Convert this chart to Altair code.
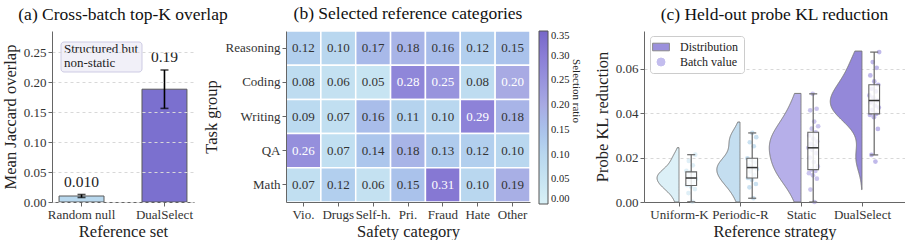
import json

import altair as alt
import pandas as pd

FONT = "Liberation Serif"

# ---------------- (a) cross-batch top-K overlap ----------------
ref_sets = ["Random null", "DualSelect"]
overlap_mean = [0.010, 0.188]
overlap_err = [0.0025, 0.032]
overlap_text = ["0.010", "0.19"]
bar_colors = ["#b8d8ee", "#7b70cf"]
note_lines = "Structured but\nnon-static"

# ---------------- (b) selected reference categories ----------------
task_groups = ["Reasoning", "Coding", "Writing", "QA", "Math"]
safety_cats = ["Vio.", "Drugs", "Self-h.", "Pri.", "Fraud", "Hate", "Other"]
ratio_reasoning = [0.12, 0.10, 0.17, 0.18, 0.16, 0.12, 0.15]
ratio_coding = [0.08, 0.06, 0.05, 0.28, 0.25, 0.08, 0.20]
ratio_writing = [0.09, 0.07, 0.16, 0.11, 0.10, 0.29, 0.18]
ratio_qa = [0.26, 0.07, 0.14, 0.18, 0.13, 0.12, 0.10]
ratio_math = [0.07, 0.12, 0.06, 0.15, 0.31, 0.10, 0.19]
cmap_stops = [0.0, 0.10, 0.20, 0.30, 0.35]
cmap_colors = ["#d9f0f6", "#b9d7ef", "#a8aae3", "#8a7dd6", "#7666c8"]
cbar_ticks = [0.0, 0.05, 0.10, 0.15, 0.20, 0.25, 0.30, 0.35]

# ---------------- (c) held-out probe KL reduction ----------------
strategies = ["Uniform-K", "Periodic-R", "Static", "DualSelect"]
kl_uniform_k = [0.0001, 0.0040, 0.0058, 0.0070, 0.0076, 0.0088, 0.0098, 0.0104,
                0.0112, 0.0120, 0.0128, 0.0134, 0.0140, 0.0165, 0.0185, 0.0213]
kl_periodic_r = [0.0017, 0.0066, 0.0081, 0.0100, 0.0108, 0.0122, 0.0138, 0.0148,
                 0.0155, 0.0165, 0.0178, 0.0188, 0.0197, 0.0251, 0.0269, 0.0292,
                 0.0311]
kl_static = [0.0000, 0.0056, 0.0105, 0.0120, 0.0130, 0.0140, 0.0146, 0.0160,
             0.0180, 0.0200, 0.0220, 0.0235, 0.0244, 0.0252, 0.0262, 0.0272,
             0.0285, 0.0300, 0.0314, 0.0330, 0.0341, 0.0362, 0.0413, 0.0420,
             0.0487]
kl_dualselect = [0.0182, 0.0212, 0.0329, 0.0382, 0.0392, 0.0397, 0.0415, 0.0425,
                 0.0434, 0.0448, 0.0457, 0.0470, 0.0480, 0.0498, 0.0510, 0.0528,
                 0.0543, 0.0570, 0.0604, 0.0630, 0.0675]
violin_lo = [0.0, 0.0, 0.0, 0.0055]
violin_hi = [0.0245, 0.036, 0.049, 0.068]
legend_items = ["Distribution", "Batch value"]

# styling
violin_fill = ["#dcf0f7", "#c4def0", "#b6afe9", "#9488d9"]
point_fill = ["#c9e5f1", "#a6cde8", "#a89fe3", "#968bdc"]
violin_halfwidth = [0.36, 0.38, 0.52, 0.52]
BOX_SHIFT = 0.2
BOX_HALF = 0.088
CAP_HALF = 0.066

# ================= panel (a) =================
df_a = pd.DataFrame({"ref": ref_sets, "mean": overlap_mean,
                     "err": overlap_err, "label": overlap_text})
base_a = alt.Chart(df_a).transform_calculate(
    lo="datum.mean - datum.err", hi="datum.mean + datum.err")

xa = alt.X("ref:N", sort=ref_sets,
           scale=alt.Scale(paddingInner=0.458, paddingOuter=0.085),
           axis=alt.Axis(title="Reference set", labelAngle=0, grid=False, titlePadding=2))
ya_scale = alt.Scale(domain=[0, 0.285], nice=False, zero=True)
ya_axis = alt.Axis(title="Mean Jaccard overlap", values=[0, 0.05, 0.10, 0.15, 0.20, 0.25],
                   format=".2f", grid=True, gridDash=[3, 3], gridColor="#d8d8d8",
                   zindex=1, titlePadding=5)

bars = base_a.mark_bar(stroke="#5a5a5a", strokeWidth=1).encode(
    x=xa,
    y=alt.Y("mean:Q", scale=ya_scale, axis=ya_axis),
    color=alt.Color("ref:N", scale=alt.Scale(domain=ref_sets, range=bar_colors), legend=None),
)
err_line = base_a.mark_rule(color="black", strokeWidth=1.6).encode(
    x=xa, y=alt.Y("lo:Q", scale=ya_scale, axis=ya_axis), y2="hi:Q")
cap_lo = base_a.mark_tick(color="black", thickness=1.6, size=8).encode(
    x=xa, y=alt.Y("lo:Q", scale=ya_scale, axis=ya_axis))
cap_hi = base_a.mark_tick(color="black", thickness=1.6, size=8).encode(
    x=xa, y=alt.Y("hi:Q", scale=ya_scale, axis=ya_axis))
bar_labels = base_a.mark_text(baseline="bottom", dy=-5, fontSize=15.5, color="#222").encode(
    x=xa, y=alt.Y("hi:Q", scale=ya_scale, axis=ya_axis), text="label:N")
note_box = alt.Chart(alt.Data(values=[{}])).mark_rect(
    fill="#f1f0f8", stroke="#cdcbe4", strokeWidth=1, cornerRadius=3
).encode(x=alt.value(9), x2=alt.value(90), y=alt.value(11), y2=alt.value(41))
note = alt.Chart(alt.Data(values=[{"t": note_lines}])).mark_text(
    align="left", baseline="top", fontSize=13, lineHeight=14, lineBreak="\n", color="#222"
).encode(x=alt.value(12), y=alt.value(12), text="t:N")

panel_a = alt.layer(bars, err_line, cap_lo, cap_hi, bar_labels, note_box, note).properties(
    width=142, height=171,
    title=alt.TitleParams("(a) Cross-batch top-K overlap", frame="group"))

# ================= panel (b) =================
heat_rows = [ratio_reasoning, ratio_coding, ratio_writing, ratio_qa, ratio_math]
df_b = pd.DataFrame([
    {"group": g, "cat": c, "ratio": v}
    for g, row in zip(task_groups, heat_rows)
    for c, v in zip(safety_cats, row)
])
xb = alt.X("cat:N", sort=safety_cats,
           axis=alt.Axis(title="Safety category", labelAngle=0, domainColor="#666",
                         titlePadding=2))
yb = alt.Y("group:N", sort=task_groups,
           axis=alt.Axis(title="Task group", domainColor="#666", titlePadding=6))

heat = alt.Chart(df_b).mark_rect(stroke="white", strokeWidth=1.5).encode(
    x=xb, y=yb,
    color=alt.Color(
        "ratio:Q",
        scale=alt.Scale(domain=cmap_stops, range=cmap_colors),
        legend=alt.Legend(
            title=None, orient="none", legendX=253, legendY=0, values=cbar_ticks,
            format=".2f", direction="vertical",
            gradientLength=173, gradientThickness=9, gradientStrokeColor="#555",
            gradientStrokeWidth=1, labelFontSize=10.5, labelOffset=3,
        ),
    ),
)
heat_text = alt.Chart(df_b).mark_text(fontSize=13).encode(
    x=xb, y=yb,
    text=alt.Text("ratio:Q", format=".2f"),
    color=alt.condition("datum.ratio >= 0.195", alt.value("white"), alt.value("#333")),
)
cbar_title = alt.Chart(alt.Data(values=[{"t": "Selection ratio"}])).mark_text(
    angle=90, fontSize=11, color="#222", baseline="middle", align="center"
).encode(x=alt.value(290), y=alt.value(60), text="t:N")

panel_b = alt.layer(heat, heat_text, cbar_title).properties(
    width=244, height=171,
    title=alt.TitleParams("(b) Selected reference categories", frame="group"))

# ================= panel (c) =================
kl_series = [kl_uniform_k, kl_periodic_r, kl_static, kl_dualselect]
df_c = pd.DataFrame([
    {"strategy": s, "pos": i, "kl": v, "lo": violin_lo[i], "hi": violin_hi[i],
     "hw": violin_halfwidth[i]}
    for i, (s, vals) in enumerate(zip(strategies, kl_series))
    for v in vals
])

xc_scale = alt.Scale(domain=[-0.574, 3.705], nice=False, zero=False)
xc_axis = alt.Axis(title="Reference strategy", values=[0, 1, 2, 3], grid=False,
                   labelExpr=f"{json.dumps(strategies)}[datum.value]", titlePadding=2)
yc_scale = alt.Scale(domain=[0, 0.077], nice=False, zero=True)
yc_axis = alt.Axis(title="Probe KL reduction", values=[0, 0.02, 0.04, 0.06], format=".2f",
                   grid=True, gridDash=[3, 3], gridColor="#d8d8d8", titlePadding=5)


def xc(field):
    return alt.X(field, type="quantitative", scale=xc_scale, axis=xc_axis)


def yc(field):
    return alt.Y(field, type="quantitative", scale=yc_scale, axis=yc_axis)


violins = alt.Chart(df_c).transform_density(
    "kl", groupby=["strategy", "pos", "lo", "hi", "hw"],
    extent=[0, 0.077], steps=400, as_=["kl", "density"],
).transform_joinaggregate(
    maxd="max(density)", groupby=["strategy"]
).transform_filter(
    "datum.kl >= datum.lo && datum.kl <= datum.hi"
).transform_calculate(
    xl="datum.pos - datum.density / datum.maxd * datum.hw"
).mark_area(orient="horizontal", stroke="#7a7a7a", strokeWidth=1).encode(
    y=yc("kl"), x=xc("xl"), x2="pos:Q",
    color=alt.Color("strategy:N", scale=alt.Scale(domain=strategies, range=violin_fill),
                    legend=None),
)

points = alt.Chart(df_c).transform_window(
    idx="row_number()", groupby=["strategy"]
).transform_calculate(
    px=f"datum.pos + {BOX_SHIFT} + ((datum.idx * 0.618) % 1 - 0.5) * 0.17"
).mark_circle(size=22, opacity=0.6).encode(
    x=xc("px"), y=yc("kl"),
    color=alt.Color("strategy:N", scale=alt.Scale(domain=strategies, range=point_fill),
                    legend=None),
)

box_base = alt.Chart(df_c).transform_joinaggregate(
    q1="q1(kl)", q3="q3(kl)", med="median(kl)", groupby=["strategy", "pos"]
).transform_filter(
    "datum.kl >= datum.q1 - 1.5 * (datum.q3 - datum.q1) && "
    "datum.kl <= datum.q3 + 1.5 * (datum.q3 - datum.q1)"
).transform_aggregate(
    wlo="min(kl)", whi="max(kl)", bq1="max(q1)", bq3="max(q3)", bmed="max(med)",
    groupby=["strategy", "pos"],
).transform_calculate(
    bx=f"datum.pos + {BOX_SHIFT}",
    bl=f"datum.pos + {BOX_SHIFT} - {BOX_HALF}",
    br=f"datum.pos + {BOX_SHIFT} + {BOX_HALF}",
    cl=f"datum.pos + {BOX_SHIFT} - {CAP_HALF}",
    cr=f"datum.pos + {BOX_SHIFT} + {CAP_HALF}",
)
whisker = box_base.mark_rule(color="#666", strokeWidth=1.2).encode(
    x=xc("bx"), y=yc("wlo"), y2="whi:Q")
cap_low = box_base.mark_rule(color="#666", strokeWidth=1.2).encode(
    x=xc("cl"), x2="cr:Q", y=yc("wlo"))
cap_high = box_base.mark_rule(color="#666", strokeWidth=1.2).encode(
    x=xc("cl"), x2="cr:Q", y=yc("whi"))
box = box_base.mark_rect(fill="white", fillOpacity=0.8, stroke="#666", strokeWidth=1.1).encode(
    x=xc("bl"), x2="br:Q", y=yc("bq1"), y2="bq3:Q")
median = box_base.mark_rule(color="#333", strokeWidth=1.5).encode(
    x=xc("bl"), x2="br:Q", y=yc("bmed"))

rect_symbol = "M-2.1,-0.95H2.1V0.95H-2.1Z"
legend_cfg = dict(
    title=None, orient="none", legendX=6, legendY=5, fillColor="white",
    strokeColor="#cccccc", padding=5, cornerRadius=3, labelFontSize=12,
    labelOffset=13, rowPadding=3, symbolSize=64, symbolStrokeWidth=1,
)
legend_layer = alt.Chart(
    pd.DataFrame({"item": legend_items, "kl": [-1.0, -1.0], "pos": [0, 0]})
).transform_filter("datum.kl > 0").mark_point(filled=True, opacity=1).encode(
    x=xc("pos"), y=yc("kl"),
    color=alt.Color("item:N", scale=alt.Scale(domain=legend_items,
                                              range=["#9b90dc", "#c3bdee"]),
                    legend=alt.Legend(**legend_cfg)),
    shape=alt.Shape("item:N", scale=alt.Scale(domain=legend_items,
                                              range=[rect_symbol, "circle"]),
                    legend=alt.Legend(**legend_cfg)),
    stroke=alt.Stroke("item:N", scale=alt.Scale(domain=legend_items,
                                                range=["#8a8a8a", "#c3bdee"]),
                      legend=alt.Legend(**legend_cfg)),
)

panel_c = alt.layer(
    violins, points, whisker, cap_low, cap_high, box, median, legend_layer
).resolve_scale(color="independent", shape="independent", stroke="independent").properties(
    width=261, height=171,
    title=alt.TitleParams("(c) Held-out probe KL reduction", frame="group"))

# ================= assemble =================
left_pair = alt.hconcat(panel_a, panel_b, spacing=92, bounds="flush")
chart = alt.hconcat(left_pair, panel_c, spacing=12).configure(
    font=FONT, padding={"left": 2, "top": 4, "right": 0, "bottom": 0}
).configure_view(stroke=None).configure_axis(
    labelFont=FONT, titleFont=FONT, labelFontSize=13, titleFontSize=16.5,
    titleFontWeight="normal", domainColor="#666", tickColor="#666",
    labelColor="#333", titleColor="#222", tickSize=4, labelPadding=2,
).configure_title(
    font=FONT, fontSize=17.5, fontWeight="normal", color="#111", offset=8
).configure_legend(
    labelFont=FONT, labelColor="#222"
).configure_text(font=FONT)

chart.save("out.html", embed_options={"renderer": "svg", "actions": False})
